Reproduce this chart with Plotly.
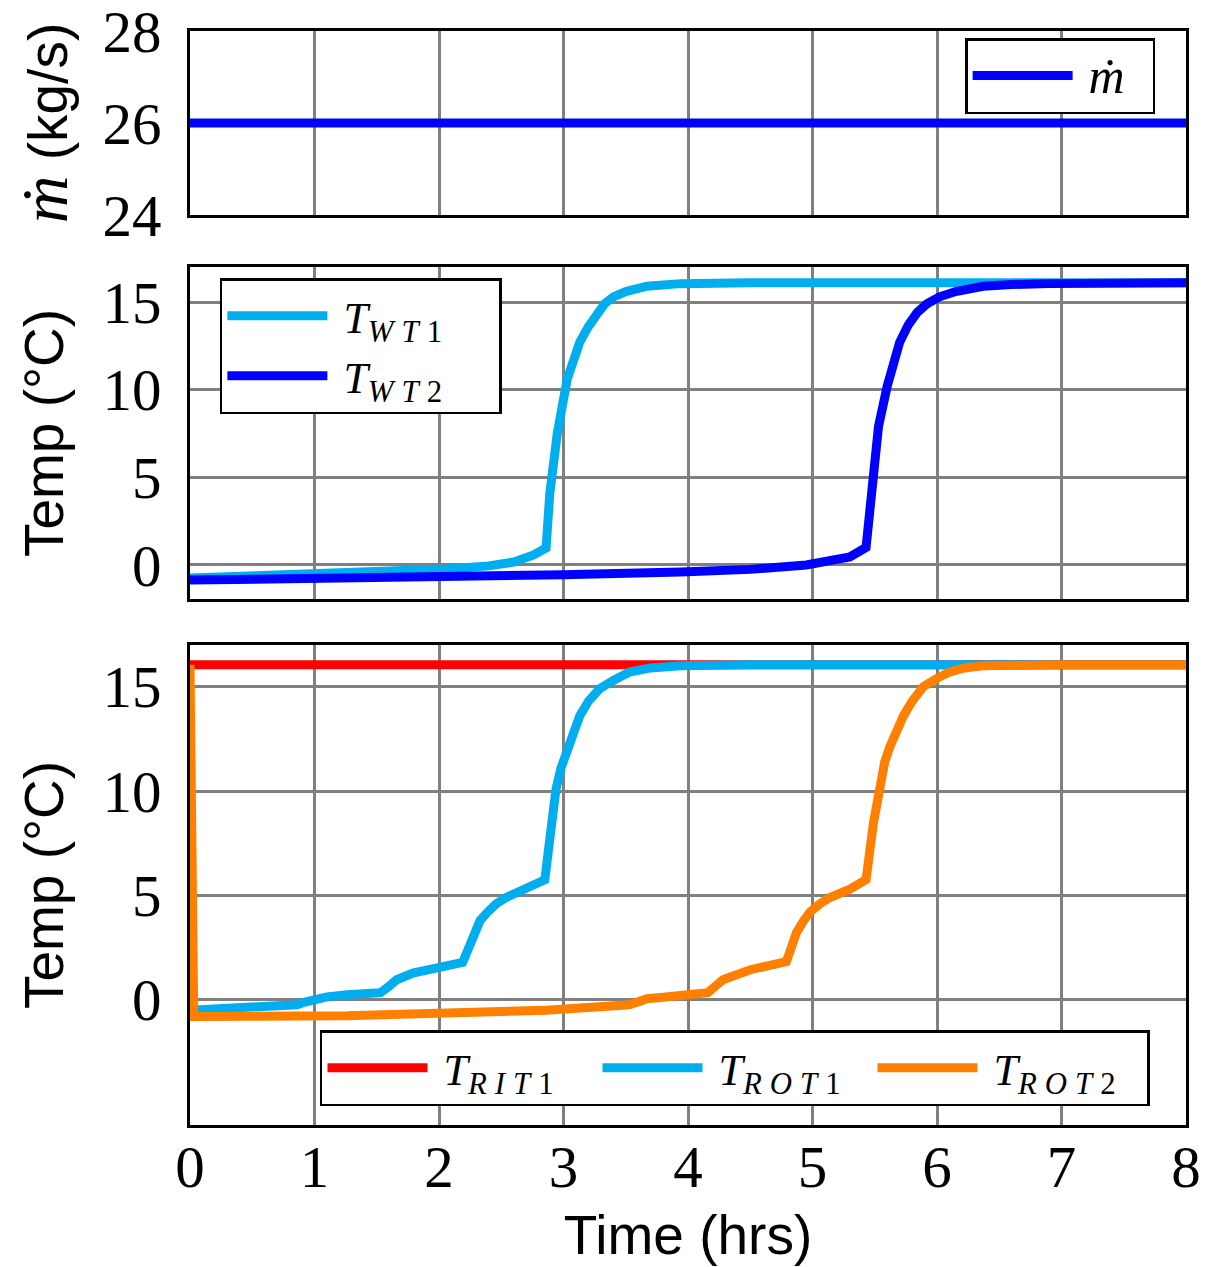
import plotly.graph_objects as go

# ---------------- data ----------------
t_mdot = [0, 8]
mdot = [26, 26]

t_wt1 = [0, 0.5, 0.99, 1.5, 2.06, 2.4, 2.6, 2.76, 2.86, 2.89, 2.95, 3.03, 3.08, 3.13, 3.2, 3.27, 3.33, 3.4, 3.5,
         3.67, 3.8, 3.94, 4.5, 8]
wt1 = [-0.74, -0.63, -0.51, -0.39, -0.23, -0.05, 0.17, 0.57, 0.97, 4.1, 7.5, 10.6, 11.8, 12.7, 13.6, 14.4, 14.9, 15.3, 15.6,
       15.9, 16.0, 16.05, 16.1, 16.1]

t_wt2 = [0, 1, 2, 3, 3.94, 4.5, 4.95, 5.2, 5.3, 5.43, 5.48, 5.53, 5.6, 5.65, 5.7, 5.77, 5.84, 5.92, 6.02, 6.15,
         6.37, 6.6, 6.9, 8]
wt2 = [-0.86, -0.8, -0.69, -0.56, -0.4, -0.25, 0.0, 0.27, 0.46, 1.0, 4.1, 7.9, 10.2, 11.6, 12.7, 13.7, 14.4, 14.9, 15.3, 15.6,
       15.9, 16.0, 16.05, 16.1]

t_rit1 = [0, 8]
rit1 = [16.05, 16.05]

t_rot1 = [0, 0.5, 0.86, 0.93, 0.99, 1.1, 1.26, 1.53, 1.6, 1.66, 1.79, 2.01, 2.19, 2.24, 2.28, 2.33, 2.39, 2.46, 2.54,
          2.63, 2.73, 2.85, 2.89, 2.94, 2.98, 3.03, 3.08, 3.13, 3.2, 3.29, 3.4, 3.53, 3.7, 3.94, 4.5, 8]
rot1 = [-0.5, -0.37, -0.24, -0.1, 0.0, 0.14, 0.24, 0.34, 0.65, 0.96, 1.28, 1.53, 1.79, 2.5, 3.2, 3.8, 4.2, 4.6, 4.9,
        5.15, 5.4, 5.75, 7.7, 10.1, 11.1, 12.0, 12.9, 13.6, 14.3, 14.9, 15.3, 15.7, 15.9, 16.0, 16.05, 16.05]

t_rot2 = [0, 0.03, 1.26, 2.86, 3.53, 3.6, 3.67, 3.8, 3.94, 4.16, 4.22, 4.28, 4.5, 4.79, 4.83, 4.87, 4.93, 4.98, 5.06,
          5.14, 5.3, 5.43, 5.49, 5.54, 5.58, 5.62, 5.67, 5.73, 5.8, 5.89, 6.0, 6.1, 6.22, 6.37, 7, 8]
rot2 = [16.05, -0.8, -0.77, -0.5, -0.24, -0.08, 0.05, 0.12, 0.19, 0.34, 0.65, 0.96, 1.44, 1.83, 2.5, 3.2, 3.8, 4.2, 4.6,
        4.9, 5.3, 5.75, 8.5, 10.5, 11.4, 12.1, 12.9, 13.6, 14.3, 15.0, 15.4, 15.7, 15.9, 16.0, 16.05, 16.05]

x_ticks = [0, 1, 2, 3, 4, 5, 6, 7, 8]
y1_ticks = [24, 26, 28]
y2_ticks = [0, 5, 10, 15]
y3_ticks = [0, 5, 10, 15]

# ---------------- style ----------------
C_BLUE = "#0000FF"
C_CYAN = "#00AEEF"
C_RED = "#FF0000"
C_ORANGE = "#FF8000"
LW = 9
GRID = "#808080"
SERIF = "Liberation Serif"
SANS = "Liberation Sans"
NB = "\u00a0"


def tname(sub_it, sub_num, tail=""):
    return (NB + "<i>T</i><sub><span style=\"letter-spacing:8px\"><i>%s</i>%s</span></sub>%s"
            % (sub_it, sub_num, tail))


fig = go.Figure()

fig.add_trace(go.Scatter(x=t_mdot, y=mdot, mode="lines", line=dict(color=C_BLUE, width=LW),
                         name=NB + "<span style=\"font-size:50px\"><i>ṁ</i></span>" + NB + NB,
                         xaxis="x", yaxis="y", legend="legend", showlegend=True))

fig.add_trace(go.Scatter(x=t_wt1, y=wt1, mode="lines", line=dict(color=C_CYAN, width=LW),
                         name=tname("WT", "1", NB * 4), xaxis="x2", yaxis="y2", legend="legend2"))
fig.add_trace(go.Scatter(x=t_wt2, y=wt2, mode="lines", line=dict(color=C_BLUE, width=LW),
                         name=tname("WT", "2", NB * 4), xaxis="x2", yaxis="y2", legend="legend2"))

fig.add_trace(go.Scatter(x=t_rit1, y=rit1, mode="lines", line=dict(color=C_RED, width=LW),
                         name=tname("RIT", "1"), xaxis="x3", yaxis="y3", legend="legend3"))
fig.add_trace(go.Scatter(x=t_rot1, y=rot1, mode="lines", line=dict(color=C_CYAN, width=LW),
                         name=tname("ROT", "1"), xaxis="x3", yaxis="y3", legend="legend3"))
fig.add_trace(go.Scatter(x=t_rot2, y=rot2, mode="lines", line=dict(color=C_ORANGE, width=LW),
                         name=tname("ROT", "2"), xaxis="x3", yaxis="y3", legend="legend3"))

tickfont = dict(family=SERIF, size=59, color="black")
titlefont = dict(family=SANS, size=55, color="black")

common_x = dict(range=[0, 8], tickvals=x_ticks, showgrid=True, gridcolor=GRID, gridwidth=2.5,
                showline=True, linecolor="black", linewidth=2.5, mirror=True, ticks="",
                zeroline=False, tickfont=tickfont)
common_y = dict(showgrid=True, gridcolor=GRID, gridwidth=2.5, showline=True, linecolor="black",
                linewidth=2.5, mirror=True, ticks="", zeroline=False, tickfont=tickfont,
                ticklabelstandoff=14, ticklabeloverflow="allow")

legend_common = dict(bgcolor="white", bordercolor="black", borderwidth=2.5,
                     font=dict(family=SERIF, size=44, color="black"), itemwidth=100)

fig.update_layout(
    width=1220, height=1267,
    showlegend=True,
    paper_bgcolor="white", plot_bgcolor="white",
    margin=dict(l=182, r=42, t=23, b=150, autoexpand=False),
    xaxis=dict(common_x, domain=[0, 1], anchor="y", showticklabels=False),
    xaxis2=dict(common_x, domain=[0, 1], anchor="y2", showticklabels=False, matches="x"),
    xaxis3=dict(common_x, domain=[0, 1], anchor="y3", showticklabels=True, matches="x",
                ticklabelstandoff=-12,
                title=dict(text="Time (hrs)", font=titlefont, standoff=17)),
    yaxis=dict(common_y, domain=[0.8318, 1.0], range=[23.999, 28.001], tickvals=y1_ticks, anchor="x",
               title=dict(text="<span style=\"font-family:Liberation Serif;font-style:italic;font-size:66px\">ṁ</span> (kg/s)",
                          font=titlefont, standoff=22)),
    yaxis2=dict(common_y, domain=[0.4808, 0.7843], range=[-1.94, 17], tickvals=y2_ticks, anchor="x2",
                title=dict(text="Temp (°C)", font=titlefont, standoff=22)),
    yaxis3=dict(common_y, domain=[0.0, 0.4388], range=[-6, 17], tickvals=y3_ticks, anchor="x3",
                title=dict(text="Temp (°C)", font=titlefont, standoff=22)),
    legend=dict(legend_common, x=0.969, y=0.9936, xanchor="right", yanchor="top"),
    legend2=dict(legend_common, x=0.030, y=0.7742, xanchor="left", yanchor="top"),
    legend3=dict(legend_common, x=0.1305, y=0.0868, xanchor="left", yanchor="top", orientation="h",
                 entrywidth=160),
)

fig.write_html("out.html")
